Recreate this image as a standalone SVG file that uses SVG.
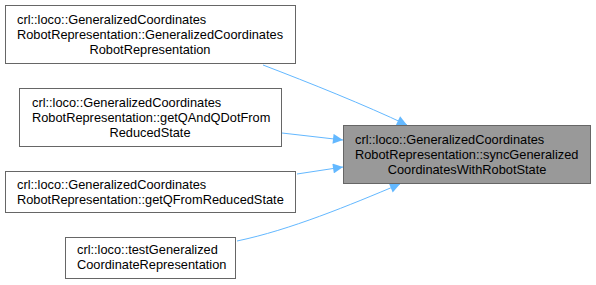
<svg xmlns="http://www.w3.org/2000/svg" width="596" height="285" viewBox="0 0 596 285">
  <style>
    .box { fill: #ffffff; stroke: #666666; stroke-width: 1; }
    .box.current { fill: #999999; }
    .label { font-family: "Liberation Sans", Arial, sans-serif; font-size: 12.8px; fill: #000000; }
    .mid { text-anchor: middle; }
    .edge { fill: none; stroke: #63b8ff; stroke-width: 1; marker-end: url(#arrow); }
  </style>
  <defs>
    <marker id="arrow" viewBox="0 0 10 10" refX="10" refY="5" markerWidth="12" markerHeight="10" markerUnits="userSpaceOnUse" orient="auto">
      <path d="M0,0 L10,5 L0,10 z" fill="#63b8ff"/>
    </marker>
  </defs>
  <rect width="596" height="285" fill="#ffffff"/>

  <g id="edges">
    <path class="edge" d="M263,65 C310,83 365,105 407,125"/>
    <path class="edge" d="M282,133 L343,140"/>
    <path class="edge" d="M297,174 L343,167"/>
    <path class="edge" d="M237,241 C290,230 350,205 400,184"/>
  </g>

  <g id="node-sync">
    <rect class="box current" x="343.5" y="125.5" width="247" height="58"/>
    <text class="label" x="355" y="143.5">crl::loco::GeneralizedCoordinates</text>
    <text class="label" x="355" y="158.5">RobotRepresentation::syncGeneralized</text>
    <text class="label mid" x="467" y="173.5">CoordinatesWithRobotState</text>
  </g>

  <g id="node-ctor">
    <rect class="box" x="5.5" y="5.5" width="290" height="58"/>
    <text class="label" x="17" y="24">crl::loco::GeneralizedCoordinates</text>
    <text class="label" x="17" y="39">RobotRepresentation::GeneralizedCoordinates</text>
    <text class="label mid" x="150" y="54">RobotRepresentation</text>
  </g>

  <g id="node-getQAndQDot">
    <rect class="box" x="19.5" y="88.5" width="262" height="58"/>
    <text class="label" x="32" y="107">crl::loco::GeneralizedCoordinates</text>
    <text class="label" x="32" y="122">RobotRepresentation::getQAndQDotFrom</text>
    <text class="label mid" x="150" y="137">ReducedState</text>
  </g>

  <g id="node-getQ">
    <rect class="box" x="5.5" y="171.5" width="290" height="41"/>
    <text class="label" x="17" y="189">crl::loco::GeneralizedCoordinates</text>
    <text class="label" x="17" y="204">RobotRepresentation::getQFromReducedState</text>
  </g>

  <g id="node-test">
    <rect class="box" x="65.5" y="237.5" width="170" height="41"/>
    <text class="label" x="77" y="254">crl::loco::testGeneralized</text>
    <text class="label" x="77" y="269">CoordinateRepresentation</text>
  </g>
</svg>
